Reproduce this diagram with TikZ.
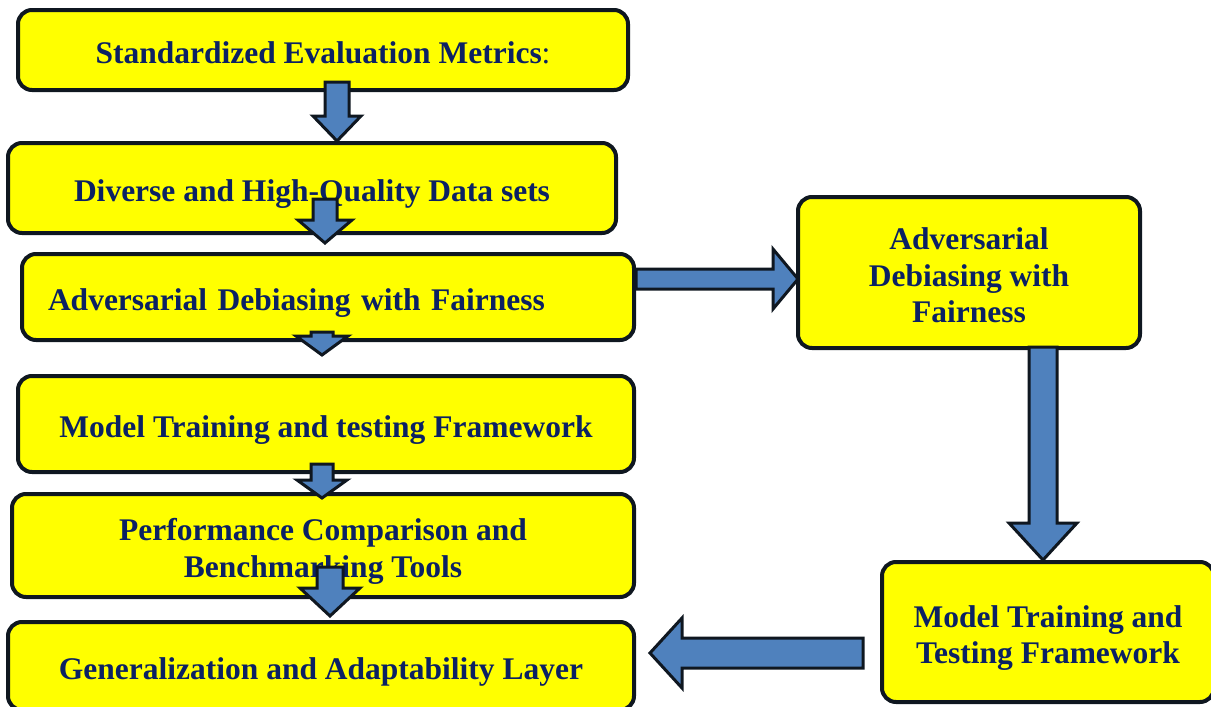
\documentclass[tikz,border=0pt]{standalone}
\usepackage{fontspec}
\setmainfont{Liberation Serif}
\usepackage{tikz}
\usetikzlibrary{calc}
\definecolor{boxfill}{HTML}{FFFF00}
\definecolor{edge}{HTML}{0F1720}
\definecolor{ink}{HTML}{0B2163}
\definecolor{flow}{HTML}{4F81BD}

\begin{document}
\begin{tikzpicture}[x=1pt,y=-1pt,
  font=\fontsize{31.5}{36.5}\selectfont\bfseries,
  box/.style={draw=edge,line width=4pt,rounded corners=14pt,fill=boxfill,text=ink,align=center,
    inner sep=0pt,text height=27pt,text depth=0pt},
  two/.style={text height=63.5pt},
  three/.style={text height=100pt},
  % block arrows: shaft half width / head half width / head length
  blkv/.style n args={3}{draw=edge,line width=3pt,fill=flow,
    to path={let \p1=(\tikztostart),\p2=(\tikztotarget) in
      (\x1-#1,\y1) -- (\x1-#1,\y2+#3) -- (\x1-#2,\y2+#3) -- (\x1,\y2)
      -- (\x1+#2,\y2+#3) -- (\x1+#1,\y2+#3) -- (\x1+#1,\y1) -- cycle}},
  blkh/.style n args={3}{draw=edge,line width=3pt,fill=flow,
    to path={let \p1=(\tikztostart),\p2=(\tikztotarget),\n1={sign(\x2-\x1)} in
      (\x1,\y1+#1) -- (\x2-\n1*#3,\y1+#1) -- (\x2-\n1*#3,\y1+#2) -- (\x2,\y1)
      -- (\x2-\n1*#3,\y1-#2) -- (\x2-\n1*#3,\y1-#1) -- (\x1,\y1-#1) -- cycle}}]
\useasboundingbox (0,0) rectangle (1211,707);

% left column
\node[box,minimum width=610pt,minimum height=80pt] (a) at (323,50) {Standardized Evaluation Metrics{\mdseries:}};
\node[box,minimum width=608pt,minimum height=90pt] (b) at (312,188) {Diverse and High-Quality Data sets};
\node[box,minimum width=612pt,minimum height=86pt,text width=560pt,inner xsep=26pt,align=left] (c) at (328,297) {Adversarial Debiasing with Fairness};
\node[box,minimum width=616pt,minimum height=96pt] (d) at (326,424) {Model Training and testing Framework};
\node[box,two,minimum width=622pt,minimum height=103pt] (e) at (323,545.5) {Performance Comparison and\\Benchmarking Tools};
\node[box,minimum width=626pt,minimum height=88pt] (f) at (321,666) {Generalization and Adaptability Layer};
% right branch
\node[box,three,minimum width=342pt,minimum height=151pt] (g) at (969,272.5) {Adversarial\\Debiasing with\\Fairness};
\node[box,two,minimum width=332pt,minimum height=140pt] (h) at (1048,632) {Model Training and\\Testing Framework};

\draw[blkv={12pt}{24pt}{25pt}] ([shift={(14pt,10pt)}]a.south) to (b.north);
\draw[blkv={12pt}{27pt}{23pt}] ([shift={(13pt,36pt)}]b.south) to ([yshift=9pt]c.north);
\draw[blkv={11pt}{26pt}{19pt}] ([shift={(-6pt,10pt)}]c.south) to ([yshift=19pt]d.north);
\draw[blkv={11pt}{25pt}{18pt}] ([shift={(-4pt,10pt)}]d.south) to ([yshift=-6pt]e.north);
\draw[blkv={13pt}{30pt}{28pt}] ([shift={(7pt,32pt)}]e.south) to ([yshift=4pt]f.north);
\draw[blkh={10pt}{30pt}{25pt}] ([yshift=18pt]c.east) to ([xshift=2pt]g.west);
\draw[blkv={14pt}{34pt}{37pt}] ([shift={(74pt,3pt)}]g.south) to (h.north);
\draw[blkh={15pt}{35pt}{32pt}] ([shift={(-17pt,-21pt)}]h.west) to ([xshift=14pt]f.east);
\end{tikzpicture}
\end{document}
